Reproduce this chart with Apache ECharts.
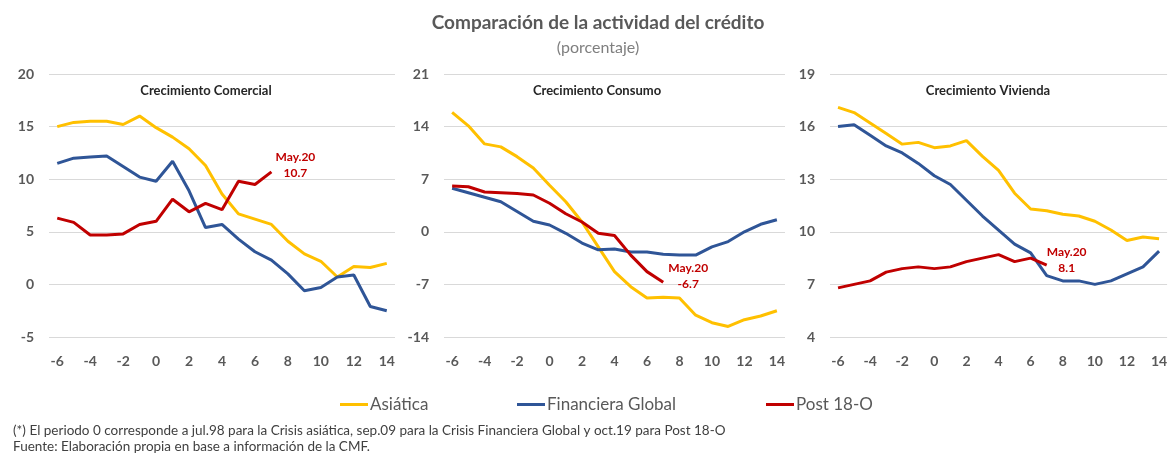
<!DOCTYPE html>
<html>
<head>
<meta charset="utf-8">
<script src="https://cdn.jsdelivr.net/npm/echarts@6/dist/echarts.min.js"></script>
<style>
html,body{margin:0;padding:0;background:#fff;}
#chart{width:1170px;height:454px;}
</style>
</head>
<body>
<div id="chart"></div>
<script>
// ---- Data ----
const periods = ['-6','-5','-4','-3','-2','-1','0','1','2','3','4','5','6','7','8','9','10','11','12','13','14'];

const comercialAsiatica = [15.0,15.4,15.5,15.5,15.2,16.0,14.9,14.0,12.9,11.3,8.6,6.7,6.2,5.7,4.1,2.9,2.2,0.7,1.7,1.6,2.0];
const comercialGlobal   = [11.5,12.0,12.1,12.2,11.2,10.2,9.8,11.7,8.9,5.4,5.7,4.3,3.1,2.3,1.0,-0.6,-0.3,0.7,0.9,-2.1,-2.5];
const comercialPost     = [6.3,5.9,4.7,4.7,4.8,5.7,6.0,8.1,6.9,7.7,7.1,9.8,9.5,10.7];

const consumoAsiatica = [15.9,14.1,11.7,11.3,10.0,8.5,6.2,4.0,1.3,-2.0,-5.3,-7.3,-8.8,-8.7,-8.8,-11.1,-12.1,-12.6,-11.7,-11.2,-10.5];
const consumoGlobal   = [5.8,5.2,4.6,4.0,2.7,1.4,0.9,-0.2,-1.5,-2.4,-2.3,-2.7,-2.7,-3.0,-3.1,-3.1,-2.0,-1.3,0.0,1.0,1.6];
const consumoPost     = [6.1,6.0,5.3,5.2,5.1,4.9,3.8,2.4,1.3,-0.2,-0.5,-3.1,-5.3,-6.7];

const viviendaAsiatica = [17.1,16.8,16.2,15.6,15.0,15.1,14.8,14.9,15.2,14.3,13.5,12.2,11.3,11.2,11.0,10.9,10.6,10.1,9.5,9.7,9.6];
const viviendaGlobal   = [16.0,16.1,15.5,14.9,14.5,13.9,13.2,12.7,11.8,10.9,10.1,9.3,8.8,7.5,7.2,7.2,7.0,7.2,7.6,8.0,8.9];
const viviendaPost     = [6.8,7.0,7.2,7.7,7.9,8.0,7.9,8.0,8.3,8.5,8.7,8.3,8.5,8.1];

const yMin = [-5, -14, 4];
const yMax = [20, 21, 19];
const yInterval = [5, 7, 3];

const panelTitles = ['Crecimiento Comercial', 'Crecimiento Consumo', 'Crecimiento Vivienda'];
const seriesNames = ['Asiática', 'Financiera Global', 'Post 18-O'];
const lastLabel = 'May.20';

const mainTitle = 'Comparación de la actividad del crédito';
const subTitle = '(porcentaje)';
const note1 = '(*) El periodo 0 corresponde a jul.98 para la Crisis asiática, sep.09 para la Crisis Financiera Global y oct.19 para Post 18-O';
const note2 = 'Fuente: Elaboración propia en base a información de la CMF.';

// ---- Styling / layout ----
const FONT = 'Lato';
const colors = ['#FFC000', '#2F5597', '#C00000'];
const grids = [
  {left: 49, top: 74, width: 346, height: 263},
  {left: 444, top: 74, width: 341, height: 263},
  {left: 830, top: 74, width: 345, height: 263}
];
const titlePos = [[206, 91], [597, 91], [988, 91]];
const labelOffsets = [[24, -7], [25, -6], [20, -5]];

const panels = [
  [comercialAsiatica, comercialGlobal, comercialPost],
  [consumoAsiatica, consumoGlobal, consumoPost],
  [viviendaAsiatica, viviendaGlobal, viviendaPost]
];

const xAxes = grids.map((g, i) => ({
  type: 'category', gridIndex: i, data: periods, boundaryGap: true,
  axisLine: {show: false}, axisTick: {show: false},
  axisLabel: {interval: 1, color: '#595959', fontSize: 14, fontFamily: FONT, fontWeight: 'bold', margin: 17}
}));
const yAxes = grids.map((g, i) => ({
  type: 'value', gridIndex: i, min: yMin[i], max: yMax[i], interval: yInterval[i],
  axisLine: {show: false}, axisTick: {show: false},
  axisLabel: {color: '#595959', fontSize: 14, fontFamily: FONT, fontWeight: 'bold', margin: 15},
  splitLine: {lineStyle: {color: '#D9D9D9', width: 1}}
}));

const series = [];
panels.forEach((p, i) => {
  p.forEach((vals, k) => {
    const s = {
      name: seriesNames[k], type: 'line', xAxisIndex: i, yAxisIndex: i,
      data: vals, showSymbol: false, symbol: 'none', smooth: false,
      lineStyle: {color: colors[k], width: 3}, itemStyle: {color: colors[k]},
      z: k === 2 ? 4 : 3
    };
    if (k === 2) {
      const li = vals.length - 1;
      s.markPoint = {
        symbol: 'circle', symbolSize: 1, itemStyle: {color: 'rgba(0,0,0,0)'},
        data: [{coord: [periods[li], vals[li]], value: vals[li]}],
        label: {
          show: true, position: 'inside', offset: labelOffsets[i],
          formatter: p2 => lastLabel + '\n' + p2.value.toFixed(1),
          color: '#C00000', fontSize: 12, fontWeight: 'bold', fontFamily: FONT,
          lineHeight: 16, align: 'center'
        }
      };
    }
    series.push(s);
  });
});

const legendLeft = [335, 512, 761];
const legends = seriesNames.map((n, k) => ({
  data: [n], left: legendLeft[k], top: 391, icon: 'rect', itemWidth: 28, itemHeight: 3,
  itemGap: 0,
  textStyle: {color: '#595959', fontSize: 17, fontFamily: FONT, padding: [0, 0, 0, -3]}, selectedMode: false
}));

const graphics = [
  {type: 'text', x: 598, y: 23, style: {text: mainTitle, fill: '#595959', font: 'bold 19px ' + FONT, textAlign: 'center', textVerticalAlign: 'middle'}},
  {type: 'text', x: 598, y: 48, style: {text: subTitle, fill: '#7F7F7F', font: '16px ' + FONT, textAlign: 'center', textVerticalAlign: 'middle'}},
  {type: 'text', x: 13, y: 431, style: {text: note1, fill: '#404040', font: '13.5px ' + FONT, textAlign: 'left', textVerticalAlign: 'middle'}},
  {type: 'text', x: 13, y: 447, style: {text: note2, fill: '#404040', font: '13.5px ' + FONT, textAlign: 'left', textVerticalAlign: 'middle'}}
];
panelTitles.forEach((t, i) => {
  graphics.push({type: 'text', x: titlePos[i][0], y: titlePos[i][1], style: {text: t, fill: '#262626', font: 'bold 13px ' + FONT, textAlign: 'center', textVerticalAlign: 'middle'}});
});

const chart = echarts.init(document.getElementById('chart'));
chart.setOption({
  animation: false,
  backgroundColor: '#fff',
  grid: grids,
  xAxis: xAxes,
  yAxis: yAxes,
  legend: legends,
  series: series,
  graphic: graphics
});
</script>
</body>
</html>
